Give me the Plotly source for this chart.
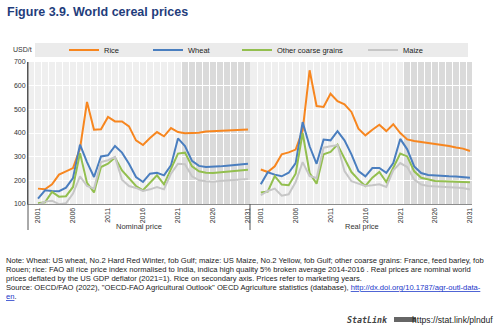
import plotly.graph_objects as go

# ---------------- data ----------------
years = list(range(2001, 2032))

rice_nominal = [165, 162, 183, 224, 238, 252, 334, 531, 414, 416, 468, 449, 449, 428, 369, 349,
                379, 404, 386, 421, 404, 399, 400, 401, 406, 408, 410, 411, 412, 414, 415]
wheat_nominal = [123, 158, 155, 154, 169, 210, 351, 277, 214, 301, 306, 345, 317, 270, 214, 193,
                 228, 232, 221, 263, 377, 345, 282, 261, 256, 256, 259, 262, 265, 268, 270]
ocg_nominal = [103, 107, 151, 131, 133, 172, 315, 189, 149, 256, 270, 296, 242, 207, 176, 158,
               189, 221, 183, 249, 313, 317, 259, 238, 232, 231, 234, 237, 239, 242, 245]
maize_nominal = [96, 110, 114, 99, 103, 144, 217, 176, 165, 277, 285, 299, 203, 176, 168, 155,
                 162, 172, 162, 228, 270, 268, 217, 200, 196, 194, 197, 199, 200, 203, 206]

rice_real = [246, 235, 259, 310, 318, 330, 411, 665, 514, 510, 566, 534, 521, 489, 418, 390,
             414, 435, 408, 437, 400, 373, 366, 362, 359, 355, 351, 345, 339, 334, 324]
wheat_real = [183, 234, 224, 217, 232, 273, 446, 344, 270, 372, 369, 408, 369, 310, 239, 217,
              252, 252, 232, 273, 375, 331, 259, 231, 223, 220, 218, 217, 216, 214, 211]
ocg_real = [149, 153, 218, 182, 179, 228, 400, 231, 186, 310, 320, 351, 292, 235, 203, 176,
            211, 235, 193, 252, 313, 301, 238, 211, 203, 197, 196, 194, 194, 193, 192]
maize_real = [137, 155, 165, 135, 141, 193, 277, 218, 210, 338, 344, 349, 239, 196, 186, 176,
              179, 183, 172, 242, 273, 256, 203, 182, 176, 175, 173, 172, 170, 168, 161]

series_names = ["Rice", "Wheat", "Other coarse grains", "Maize"]
series_colors = ["#f7861f", "#4a7ebf", "#93bf4f", "#c6c6c6"]
nominal_values = [rice_nominal, wheat_nominal, ocg_nominal, maize_nominal]
real_values = [rice_real, wheat_real, ocg_real, maize_real]

year_tick_labels = [2001, 2006, 2011, 2016, 2021, 2026, 2031]
projection_start = 2021.5
panel_titles = ["Nominal price", "Real price"]
y_ticks = [100, 200, 300, 400, 500, 600, 700]

title_text = "<b>Figure 3.9. World cereal prices</b>"
note_lines = [
    "Note: Wheat: US wheat, No.2 Hard Red Winter, fob Gulf; maize: US Maize, No.2 Yellow, fob Gulf; other coarse grains: France, feed barley, fob",
    "Rouen; rice: FAO all rice price index normalised to India, indica high quality 5% broken average 2014-2016 . Real prices are nominal world",
    "prices deflated by the US GDP deflator (2021=1). Rice on secondary axis. Prices refer to marketing years.",
    "Source: OECD/FAO (2022), \"OECD-FAO Agricultural Outlook\" OECD Agriculture statistics (database), "
    "<a href='http://dx.doi.org/10.1787/agr-outl-data-en' style='color:#1a35c8'>"
    "<span style='text-decoration:underline'>http://dx.doi.org/10.1787/agr-outl-data-</span></a>",
    "<a href='http://dx.doi.org/10.1787/agr-outl-data-en' style='color:#1a35c8'>"
    "<span style='text-decoration:underline'>en</span></a>.",
]

# ---------------- layout helpers ----------------
W, H = 499, 327
L, R, T, B = 28, 472, 62, 204
SPLIT = 250


def px(x):
    return (x - L) / (R - L)


def py(y):
    return (B - y) / (B - T)


FONT = "Liberation Sans, Arial, sans-serif"

legend_ids = ["legend", "legend2", "legend3", "legend4"]
legend_text_start = [105, 189, 278, 404]

fig = go.Figure()

for name, color, nom, real, lid in zip(series_names, series_colors, nominal_values, real_values, legend_ids):
    fig.add_trace(go.Scatter(x=years, y=nom, xaxis="x", yaxis="y", mode="lines", name=name,
                             legendgroup=name, legend=lid, line=dict(color=color, width=2)))
    fig.add_trace(go.Scatter(x=years, y=real, xaxis="x2", yaxis="y", mode="lines", name=name,
                             legendgroup=name, legend=lid, showlegend=False,
                             line=dict(color=color, width=2)))

xcommon = dict(
    tickmode="array", tickvals=year_tick_labels, ticktext=[str(v) for v in year_tick_labels],
    tickangle=-90, tickfont=dict(size=7, color="#333333", family=FONT),
    showgrid=False, zeroline=False, showline=True, linecolor="#8c8c8c", linewidth=1,
    ticks="", anchor="y",
    minor=dict(tick0=2000.5, dtick=1, showgrid=True, gridcolor="white", gridwidth=1, ticks=""),
)

legend_layout = {}
for lid, ts in zip(legend_ids, legend_text_start):
    legend_layout[lid] = dict(orientation="h", x=px(ts - 41), xanchor="left", y=py(50),
                              yanchor="middle", bgcolor="rgba(0,0,0,0)",
                              font=dict(size=7.5, color="#222222", family=FONT), itemwidth=30)

fig.update_layout(
    width=W, height=H,
    margin=dict(l=L, r=W - R, t=T, b=H - B, pad=0),
    paper_bgcolor="white", plot_bgcolor="#efefef",
    font=dict(family=FONT, size=8, color="#222222"),
    xaxis=dict(domain=[0, px(SPLIT)], range=[1999.57, 2031.29], **xcommon),
    xaxis2=dict(domain=[px(SPLIT), 1], range=[1999.45, 2031.29], **xcommon),
    yaxis=dict(range=[100, 700], tickmode="array", tickvals=y_ticks,
               tickfont=dict(size=7, color="#333333", family=FONT),
               showgrid=True, gridcolor="white", gridwidth=1, zeroline=False,
               showline=True, linecolor="#555555", linewidth=1, ticks="", ticklen=0),
    showlegend=True,
    **legend_layout,
)

shapes = []
for xr in ["x", "x2"]:
    shapes.append(dict(type="rect", xref=xr, yref="paper", x0=projection_start, x1=2031.29,
                       y0=0, y1=1, fillcolor="#dadada", line=dict(width=0), layer="below"))
shapes.append(dict(type="rect", xref="paper", yref="paper", x0=px(35), x1=px(468),
                   y0=py(57), y1=py(43), fillcolor="#ebebeb", line=dict(width=0), layer="below"))
for xv in [L, SPLIT]:
    shapes.append(dict(type="line", xref="paper", yref="paper", x0=px(xv), x1=px(xv),
                       y0=py(230), y1=py(204) if xv == SPLIT else 1,
                       line=dict(color="#555555", width=1)))
# small StatLink icon block
shapes.append(dict(type="rect", xref="paper", yref="paper", x0=px(394), x1=px(416),
                   y0=py(322), y1=py(317), fillcolor="#666666", line=dict(width=0)))
fig.update_layout(shapes=shapes)

ann = []
ann.append(dict(text=title_text, x=px(5), y=py(12), xref="paper", yref="paper",
                xanchor="left", yanchor="middle", showarrow=False,
                font=dict(size=12.5, color="#1f3d7c", family=FONT)))
ann.append(dict(text="USD/t", x=px(11), y=py(50), xref="paper", yref="paper",
                xanchor="left", yanchor="middle", showarrow=False,
                font=dict(size=7, color="#333333", family=FONT)))
for t, xc in zip(panel_titles, [139, 362]):
    ann.append(dict(text=t, x=px(xc), y=py(226), xref="paper", yref="paper",
                    xanchor="center", yanchor="middle", showarrow=False,
                    font=dict(size=7.5, color="#333333", family=FONT)))
for i, line in enumerate(note_lines):
    ann.append(dict(text=line, x=px(4), y=py(260 + i * 9), xref="paper", yref="paper",
                    xanchor="left", yanchor="middle", showarrow=False, align="left",
                    font=dict(size=7.6, color="#222222", family=FONT)))
ann.append(dict(text="<b><i>StatLink</i></b>", x=px(345), y=py(320), xref="paper", yref="paper",
                xanchor="left", yanchor="middle", showarrow=False,
                font=dict(size=8.3, color="#444444", family="DejaVu Sans Mono, monospace")))
ann.append(dict(text="https://stat.link/plnduf", x=px(495), y=py(320), xref="paper", yref="paper",
                xanchor="right", yanchor="middle", showarrow=False,
                font=dict(size=8.6, color="#222222", family=FONT)))
fig.update_layout(annotations=ann)

fig.write_html("out.html")
